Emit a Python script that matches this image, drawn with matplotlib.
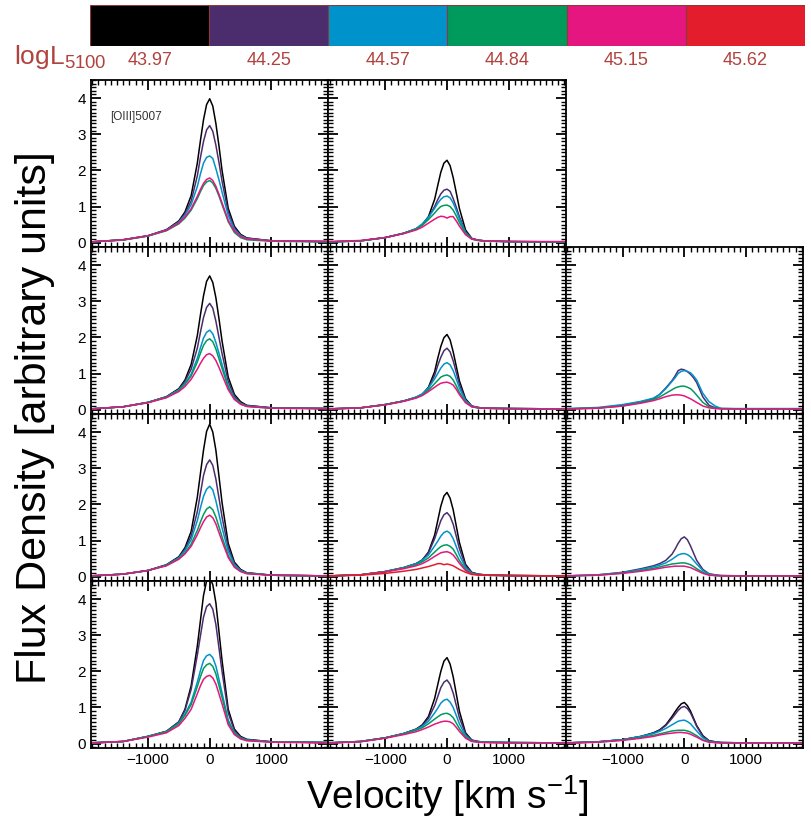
import matplotlib
matplotlib.use("Agg")
import matplotlib.pyplot as plt
from matplotlib.ticker import MultipleLocator

plt.rcParams['font.family'] = ['Liberation Sans', 'DejaVu Sans']
plt.rcParams['mathtext.fontset'] = 'custom'
plt.rcParams['mathtext.rm'] = 'Liberation Sans'
plt.rcParams['mathtext.it'] = 'Liberation Sans:italic'
plt.rcParams['mathtext.default'] = 'regular'

# Luminosity bins (colour bar)
lum_labels = ['43.97', '44.25', '44.57', '44.84', '45.15', '45.62']
lum_colors = ['#000000', '#4B2D6E', '#0093CB', '#009A5D', '#E5167F', '#E31D2C']

VEL = [-1920, -1400, -1000, -700, -500, -400, -300, -200, -150, -100, -50, 0,
       50, 100, 150, 200, 300, 400, 500, 600, 1000, 1920]

# Row 1, column 1
r1c1_bins = [0, 1, 2, 3, 4]
r1c1_flux = [
    [.02, .08, .19, .36, .60, .85, 1.30, 2.20, 2.82, 3.40, 3.82, 3.98, 3.78, 3.30, 2.68, 2.00, .95, .45, .23, .13, .05, .03],
    [.02, .08, .19, .35, .58, .80, 1.15, 1.85, 2.35, 2.80, 3.12, 3.24, 3.08, 2.70, 2.22, 1.70, .85, .40, .21, .12, .05, .03],
    [.02, .08, .19, .35, .56, .76, 1.05, 1.55, 1.90, 2.20, 2.36, 2.40, 2.33, 2.05, 1.74, 1.40, .75, .37, .19, .11, .05, .03],
    [.02, .07, .18, .33, .52, .68, .90, 1.22, 1.41, 1.58, 1.68, 1.72, 1.65, 1.50, 1.29, 1.05, .58, .28, .14, .08, .04, .02],
    [.02, .08, .19, .34, .54, .71, .94, 1.28, 1.47, 1.64, 1.75, 1.79, 1.72, 1.56, 1.34, 1.10, .62, .32, .17, .10, .05, .03],
]

# Row 1, column 2
r1c2_bins = [0, 1, 2, 3, 4]
r1c2_flux = [
    [.02, .05, .14, .26, .38, .50, .72, 1.20, 1.58, 1.95, 2.20, 2.28, 2.13, 1.80, 1.38, .95, .35, .12, .07, .05, .03, .02],
    [.02, .05, .14, .26, .38, .50, .70, 1.00, 1.19, 1.35, 1.45, 1.48, 1.42, 1.22, .98, .72, .30, .11, .07, .05, .03, .02],
    [.02, .05, .14, .26, .39, .52, .70, .95, 1.09, 1.20, 1.27, 1.29, 1.24, 1.10, .89, .66, .28, .10, .07, .05, .03, .02],
    [.02, .05, .14, .26, .37, .48, .64, .82, .92, 1.00, 1.03, 1.04, 1.00, .90, .74, .56, .25, .10, .06, .04, .03, .02],
    [.03, .06, .14, .25, .35, .43, .54, .65, .70, .73, .72, .68, .72, .72, .60, .46, .22, .10, .07, .05, .03, .03],
]

# Row 2
r2c1_bins = [0, 1, 2, 3, 4]
r2c1_flux = [
    [.02, .08, .20, .36, .58, .82, 1.25, 2.05, 2.62, 3.15, 3.55, 3.70, 3.52, 3.10, 2.52, 1.90, .90, .42, .22, .12, .05, .03],
    [.02, .08, .20, .35, .56, .78, 1.12, 1.70, 2.14, 2.55, 2.83, 2.94, 2.81, 2.45, 2.00, 1.55, .78, .37, .19, .11, .05, .03],
    [.02, .08, .20, .35, .55, .72, .98, 1.42, 1.71, 1.98, 2.14, 2.20, 2.10, 1.86, 1.56, 1.25, .66, .32, .17, .10, .05, .03],
    [.02, .08, .20, .34, .53, .70, .93, 1.32, 1.56, 1.78, 1.91, 1.96, 1.88, 1.68, 1.41, 1.14, .62, .30, .16, .09, .04, .03],
    [.02, .08, .19, .33, .50, .64, .84, 1.12, 1.28, 1.42, 1.52, 1.55, 1.49, 1.36, 1.17, .96, .55, .28, .15, .09, .04, .03],
]
r2c2_bins = [0, 1, 2, 3, 4]
r2c2_flux = [
    [.02, .05, .14, .24, .34, .42, .62, 1.05, 1.42, 1.75, 1.99, 2.08, 1.93, 1.60, 1.20, .80, .30, .10, .06, .04, .03, .02],
    [.02, .05, .14, .24, .34, .42, .60, .95, 1.22, 1.45, 1.63, 1.70, 1.60, 1.35, 1.03, .70, .27, .10, .06, .04, .03, .02],
    [.02, .05, .14, .24, .35, .44, .60, .85, 1.00, 1.15, 1.26, 1.30, 1.24, 1.08, .85, .60, .25, .09, .06, .04, .03, .02],
    [.02, .05, .14, .24, .33, .41, .54, .72, .81, .90, .94, .96, .92, .82, .66, .48, .21, .08, .05, .04, .03, .02],
    [.02, .05, .13, .23, .32, .39, .50, .62, .68, .73, .75, .76, .73, .68, .56, .42, .19, .08, .05, .04, .03, .02],
]
r2c3_bins = [1, 2, 3, 4]
r2c3_flux = [
    [.02, .04, .12, .22, .30, .42, .60, .80, .93, 1.08, 1.12, 1.10, 1.05, .98, .88, .75, .35, .12, .05, .03, .02, .02],
    [.03, .06, .14, .23, .32, .42, .58, .78, .88, 1.00, 1.06, 1.08, 1.06, 1.02, .93, .82, .45, .22, .10, .03, .03, .03],
    [.02, .05, .10, .20, .28, .35, .45, .55, .60, .63, .65, .65, .62, .58, .50, .40, .20, .08, .04, .03, .02, .02],
    [.02, .04, .10, .18, .25, .30, .36, .40, .41, .41, .40, .38, .34, .30, .25, .20, .10, .05, .03, .02, .02, .02],
]

# Row 3
r3c1_bins = [0, 1, 2, 3, 4]
r3c1_flux = [
    [.02, .07, .17, .33, .55, .80, 1.25, 2.20, 2.85, 3.50, 4.02, 4.22, 4.00, 3.50, 2.78, 2.05, .92, .40, .20, .11, .04, .02],
    [.02, .07, .17, .32, .53, .76, 1.12, 1.80, 2.30, 2.80, 3.10, 3.23, 3.08, 2.70, 2.18, 1.65, .80, .36, .18, .10, .04, .02],
    [.02, .07, .17, .32, .52, .72, 1.02, 1.55, 1.90, 2.22, 2.42, 2.50, 2.40, 2.10, 1.73, 1.35, .70, .33, .17, .10, .04, .02],
    [.02, .07, .17, .31, .50, .66, .90, 1.28, 1.51, 1.72, 1.87, 1.93, 1.85, 1.65, 1.38, 1.10, .58, .28, .15, .09, .04, .02],
    [.02, .07, .17, .30, .48, .63, .84, 1.16, 1.35, 1.52, 1.65, 1.70, 1.63, 1.46, 1.22, .98, .53, .26, .14, .08, .04, .02],
]
r3c2_bins = [0, 1, 2, 3, 4, 5]
r3c2_flux = [
    [.02, .05, .14, .25, .36, .46, .68, 1.15, 1.55, 1.95, 2.23, 2.33, 2.17, 1.85, 1.40, .95, .34, .12, .07, .05, .03, .02],
    [.02, .05, .14, .25, .36, .46, .66, 1.05, 1.30, 1.55, 1.71, 1.77, 1.67, 1.45, 1.12, .78, .30, .11, .07, .05, .03, .02],
    [.02, .05, .14, .25, .36, .45, .60, .85, .98, 1.12, 1.22, 1.26, 1.20, 1.05, .83, .60, .25, .10, .06, .04, .03, .02],
    [.02, .05, .14, .24, .33, .41, .52, .68, .76, .83, .87, .88, .84, .76, .61, .45, .20, .08, .05, .04, .03, .02],
    [.02, .05, .13, .22, .30, .36, .45, .56, .61, .66, .68, .69, .66, .60, .49, .37, .17, .07, .05, .04, .03, .02],
    [.02, .04, .09, .15, .20, .24, .28, .33, .36, .36, .33, .35, .33, .30, .25, .20, .12, .06, .05, .04, .03, .02],
]
r3c3_bins = [1, 2, 3, 4]
r3c3_flux = [
    [.02, .05, .12, .22, .30, .36, .45, .62, .76, .92, 1.05, 1.10, 1.02, .85, .65, .45, .20, .08, .05, .03, .02, .02],
    [.02, .05, .11, .20, .27, .32, .38, .48, .54, .60, .63, .64, .61, .55, .45, .35, .17, .07, .04, .03, .02, .02],
    [.02, .04, .10, .17, .23, .27, .31, .35, .36, .37, .38, .38, .36, .33, .28, .22, .12, .05, .03, .02, .02, .02],
    [.02, .04, .09, .15, .20, .23, .26, .28, .29, .29, .29, .29, .27, .25, .21, .17, .09, .04, .03, .02, .02, .02],
]

# Row 4
r4c1_bins = [0, 1, 2, 3, 4]
r4c1_flux = [
    [.02, .06, .20, .34, .60, .95, 1.60, 2.70, 3.40, 4.10, 4.50, 4.60, 4.40, 3.90, 3.10, 2.30, .95, .40, .20, .12, .05, .03],
    [.02, .06, .20, .34, .60, .92, 1.50, 2.45, 2.98, 3.50, 3.79, 3.87, 3.72, 3.30, 2.65, 2.00, .85, .36, .18, .11, .05, .03],
    [.02, .06, .20, .33, .57, .82, 1.15, 1.70, 2.02, 2.30, 2.43, 2.47, 2.38, 2.15, 1.78, 1.40, .65, .30, .16, .10, .05, .03],
    [.02, .06, .20, .33, .55, .78, 1.08, 1.58, 1.85, 2.08, 2.18, 2.22, 2.14, 1.93, 1.61, 1.28, .60, .28, .15, .09, .05, .03],
    [.02, .06, .18, .30, .50, .70, .95, 1.38, 1.60, 1.78, 1.86, 1.89, 1.82, 1.65, 1.38, 1.10, .52, .25, .13, .08, .04, .02],
]
r4c2_bins = [0, 1, 2, 3, 4]
r4c2_flux = [
    [.02, .06, .16, .28, .40, .52, .75, 1.25, 1.63, 2.00, 2.28, 2.38, 2.20, 1.85, 1.38, .90, .30, .10, .06, .04, .03, .02],
    [.02, .06, .16, .28, .40, .50, .70, 1.05, 1.30, 1.55, 1.70, 1.76, 1.64, 1.40, 1.06, .72, .27, .09, .06, .04, .03, .02],
    [.02, .06, .16, .28, .39, .48, .62, .85, .98, 1.12, 1.20, 1.23, 1.15, 1.00, .78, .55, .22, .08, .05, .04, .03, .02],
    [.02, .06, .16, .27, .37, .44, .55, .68, .74, .80, .83, .84, .80, .72, .57, .42, .18, .07, .05, .04, .03, .02],
    [.02, .05, .15, .25, .33, .39, .46, .54, .57, .60, .62, .62, .60, .55, .45, .34, .15, .06, .04, .03, .02, .02],
]
r4c3_bins = [0, 1, 2, 3, 4]
r4c3_flux = [
    [.02, .05, .11, .20, .30, .38, .52, .75, .88, 1.00, 1.10, 1.14, 1.05, .90, .70, .50, .22, .08, .05, .03, .02, .02],
    [.02, .05, .11, .20, .29, .37, .50, .70, .81, .92, 1.00, 1.03, .97, .85, .67, .48, .20, .08, .05, .03, .02, .02],
    [.02, .05, .11, .20, .28, .34, .42, .52, .57, .62, .64, .65, .61, .55, .45, .35, .16, .06, .04, .03, .02, .02],
    [.02, .04, .10, .17, .23, .27, .31, .35, .36, .37, .37, .37, .35, .32, .27, .22, .10, .05, .03, .02, .02, .02],
    [.02, .04, .09, .15, .20, .24, .27, .29, .30, .31, .31, .30, .29, .26, .22, .18, .09, .04, .03, .02, .02, .02],
]

panels = {
    (0, 0): (r1c1_bins, r1c1_flux), (0, 1): (r1c2_bins, r1c2_flux),
    (1, 0): (r2c1_bins, r2c1_flux), (1, 1): (r2c2_bins, r2c2_flux), (1, 2): (r2c3_bins, r2c3_flux),
    (2, 0): (r3c1_bins, r3c1_flux), (2, 1): (r3c2_bins, r3c2_flux), (2, 2): (r3c3_bins, r3c3_flux),
    (3, 0): (r4c1_bins, r4c1_flux), (3, 1): (r4c2_bins, r4c2_flux), (3, 2): (r4c3_bins, r4c3_flux),
}

label_red = '#B0433E'

fig, axes = plt.subplots(4, 3, figsize=(8.12, 8.18), dpi=100, sharex=True, sharey=True)
fig.subplots_adjust(left=0.1121, right=0.9889, top=0.9022, bottom=0.0856, wspace=0, hspace=0)

for (r, c), (bins, fluxes) in panels.items():
    ax = axes[r, c]
    for b, f in zip(bins, fluxes):
        ax.plot(VEL, f, color=lum_colors[b], lw=1.1)

for r in range(4):
    for c in range(3):
        ax = axes[r, c]
        ax.set_xlim(-1920, 1920)
        ax.set_ylim(-0.12, 4.5)
        ax.set_xticks([-1000, 0, 1000])
        ax.set_yticks([0, 1, 2, 3, 4])
        ax.xaxis.set_minor_locator(MultipleLocator(100))
        ax.yaxis.set_minor_locator(MultipleLocator(0.1))
        ax.tick_params(which='both', direction='in', top=True, right=True,
                       labelsize=11, width=1.0)
        ax.tick_params(which='major', length=7, width=1.3)
        ax.tick_params(which='minor', length=3.5)
        ax.tick_params(labelleft=(c == 0), labelbottom=(r == 3))
        for s in ax.spines.values():
            s.set_linewidth(1.3)

axes[0, 2].set_visible(False)

axes[0, 0].text(0.08, 0.78, '[OIII]5007', transform=axes[0, 0].transAxes,
                fontsize=8.5, color='#333333', ha='left', va='center')

fig.text(0.5505, 0.027, r'Velocity [km s$^{-1}$]', fontsize=28, ha='center', va='center')
fig.text(0.043, 0.49, 'Flux Density [arbitrary units]', fontsize=31, rotation=90,
         ha='center', va='center')

# Colour bar of luminosity bins
cax = fig.add_axes([90 / 812, 1 - 46 / 818, 715 / 812, 41 / 818])
cax.bar(range(len(lum_colors)), 1, width=1, color=lum_colors, edgecolor='#8B3A3A', linewidth=0.8)
cax.set_xlim(-0.5, len(lum_colors) - 0.5)
cax.set_ylim(0, 1)
cax.axis('off')
for i, lab in enumerate(lum_labels):
    cax.text(i, -0.15, lab, ha='center', va='top', fontsize=13, color=label_red)
fig.text(14 / 812, 1 - 57 / 818, r'logL$_{5100}$', fontsize=19, color=label_red,
         ha='left', va='center')

fig.savefig('out.png', dpi=100)
